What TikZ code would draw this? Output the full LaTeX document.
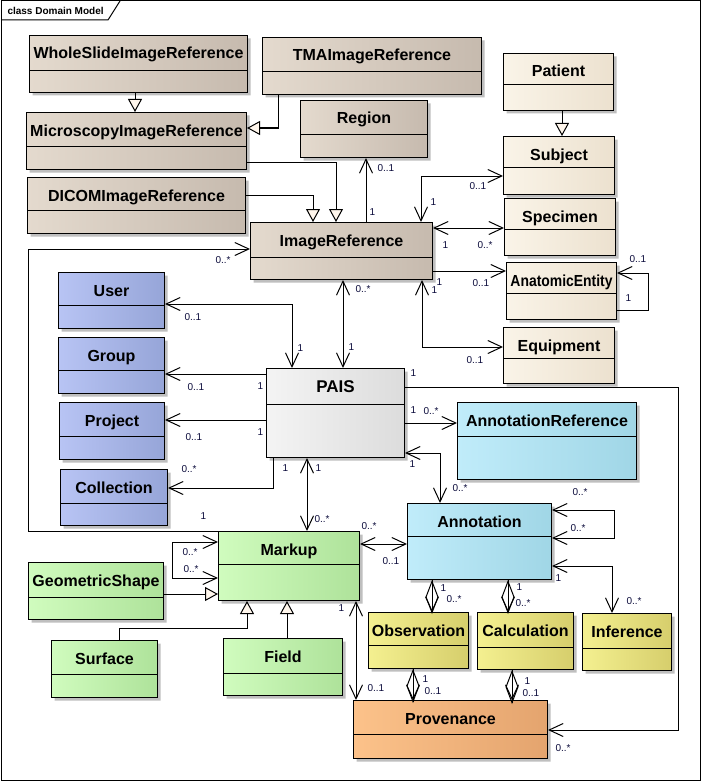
\documentclass[tikz,border=0pt]{standalone}
\usepackage{fontspec}
\setmainfont{Liberation Sans}
\usepackage{graphicx}
\usetikzlibrary{arrows.meta,shapes.multipart,shadows}

\definecolor{brownL}{RGB}{228,218,206}
\definecolor{brownR}{RGB}{198,186,174}
\definecolor{creamL}{RGB}{250,244,232}
\definecolor{creamR}{RGB}{236,225,207}
\definecolor{blueL}{RGB}{184,196,244}
\definecolor{blueR}{RGB}{150,165,216}
\definecolor{grayL}{RGB}{244,244,244}
\definecolor{grayR}{RGB}{220,220,220}
\definecolor{cyanL}{RGB}{192,236,250}
\definecolor{cyanR}{RGB}{160,214,230}
\definecolor{greenL}{RGB}{208,252,190}
\definecolor{greenR}{RGB}{174,226,154}
\definecolor{yellowL}{RGB}{244,240,144}
\definecolor{yellowR}{RGB}{214,206,108}
\definecolor{orangeL}{RGB}{252,194,138}
\definecolor{orangeR}{RGB}{228,164,110}
\definecolor{trifill}{RGB}{255,246,236}
\definecolor{multc}{RGB}{12,12,60}

\newcommand{\nm}[2]{\rule[\dimexpr23pt-#1pt\relax]{0pt}{#1pt}#2}
\newcommand{\lo}[1]{\rule{0pt}{#1pt}}

\tikzset{
  cls/.style={rectangle split, rectangle split parts=2, draw, line width=1pt,
    anchor=north west, inner xsep=2pt, inner ysep=0pt,
    font=\bfseries\fontsize{16}{19}\selectfont,
    drop shadow={shadow xshift=3pt,shadow yshift=-3pt,fill=black!25,opacity=1}},
  brownbox/.style={cls, left color=brownL, right color=brownR},
  creambox/.style={cls, left color=creamL, right color=creamR},
  bluebox/.style={cls, left color=blueL, right color=blueR},
  graybox/.style={cls, left color=grayL, right color=grayR},
  cyanbox/.style={cls, left color=cyanL, right color=cyanR},
  greenbox/.style={cls, left color=greenL, right color=greenR},
  yellowbox/.style={cls, left color=yellowL, right color=yellowR},
  orangebox/.style={cls, left color=orangeL, right color=orangeR},
  gen/.style={-{Triangle[length=13pt,width=14pt,fill=trifill]}},
  comp/.style={{Diamond[open,length=34pt,width=13pt]}->, preaction={draw,-}},
  mult/.style={anchor=west, inner sep=0pt, font=\fontsize{10}{12}\selectfont, text=multc}
}

\begin{document}
\begin{tikzpicture}[x=1pt,y=-1pt,line width=1pt,
  >={Straight Barb[length=14pt,width=13pt]}]
  \useasboundingbox[fill=white] (0,0) rectangle (702,781);

  % frame
  \draw (1,1) rectangle (700,780);
  \draw (1,20) -- (108,20) -- (120,1);
  \node[anchor=west, inner sep=0pt, font=\bfseries\fontsize{10}{12}\selectfont] (title) at (7,11) {class Domain Model};

  % image references
  \node[brownbox, minimum width=218pt] (wsir) at (29,35) {\nm{34}{WholeSlideImageReference}\nodepart{two}\lo{21}};
  \node[brownbox, minimum width=220pt] (mir) at (26,112) {\nm{33}{MicroscopyImageReference}\nodepart{two}\lo{22}};
  \node[brownbox, minimum width=218pt] (dicom) at (27,177) {\nm{32}{DICOMImageReference}\nodepart{two}\lo{22}};
  \node[brownbox, minimum width=219pt] (tma) at (262,37) {\nm{33}{TMAImageReference}\nodepart{two}\lo{22}};
  \node[brownbox, minimum width=127pt] (region) at (300,100) {\nm{33}{Region}\nodepart{two}\lo{22}};
  \node[brownbox, minimum width=182pt] (ir) at (250,222) {\nm{34}{ImageReference}\nodepart{two}\lo{21}};

  % subject side
  \node[creambox, minimum width=110pt] (patient) at (503,53) {\nm{30}{Patient}\nodepart{two}\lo{25}};
  \node[creambox, minimum width=111pt] (subject) at (503,136) {\nm{30}{Subject}\nodepart{two}\lo{26}};
  \node[creambox, minimum width=111pt] (specimen) at (504,198) {\nm{30}{Specimen}\nodepart{two}\lo{25}};
  \node[creambox, minimum width=110pt] (anatomic) at (506,262) {\nm{30}{\scalebox{0.87}[1]{AnatomicEntity}}\nodepart{two}\lo{25}};
  \node[creambox, minimum width=111pt] (equipment) at (503,327) {\nm{30}{Equipment}\nodepart{two}\lo{24}};

  % users and groups
  \node[bluebox, minimum width=106pt] (user) at (58,272) {\nm{32}{User}\nodepart{two}\lo{22}};
  \node[bluebox, minimum width=106pt] (group) at (58,337) {\nm{32}{Group}\nodepart{two}\lo{22}};
  \node[bluebox, minimum width=105pt] (project) at (59,402) {\nm{33}{Project}\nodepart{two}\lo{22}};
  \node[bluebox, minimum width=107pt] (collection) at (60,469) {\nm{33}{Collection}\nodepart{two}\lo{21}};

  \node[graybox, minimum width=138pt] (pais) at (266,368) {\nm{35}{\fontsize{17}{20}\selectfont PAIS}\nodepart{two}\lo{52}};

  \node[cyanbox, minimum width=179pt] (annref) at (457,402) {\nm{33}{AnnotationReference}\nodepart{two}\lo{42}};
  \node[cyanbox, minimum width=144pt] (annot) at (407,503) {\nm{32}{Annotation}\nodepart{two}\lo{42}};

  % markup
  \node[greenbox, minimum width=141pt] (markup) at (218,531) {\nm{32}{Markup}\nodepart{two}\lo{35}};
  \node[greenbox, minimum width=135pt] (geoshape) at (28,562) {\nm{34}{GeometricShape}\nodepart{two}\lo{21}};
  \node[greenbox, minimum width=106pt] (surface) at (51,640) {\nm{33}{Surface}\nodepart{two}\lo{22}};
  \node[greenbox, minimum width=119pt] (field) at (223,638) {\nm{34}{Field}\nodepart{two}\lo{21}};

  \node[yellowbox, minimum width=100pt] (obs) at (368,612) {\nm{32}{Observation}\nodepart{two}\lo{22}};
  \node[yellowbox, minimum width=96pt] (calc) at (477,612) {\nm{34}{Calculation}\nodepart{two}\lo{21}};
  \node[yellowbox, minimum width=89pt] (infer) at (582,613) {\nm{34}{Inference}\nodepart{two}\lo{21}};

  \node[orangebox, minimum width=194pt] (prov) at (353,700) {\nm{33}{Provenance}\nodepart{two}\lo{23}};

  % generalizations
  \draw[gen] (wsir.south -| 135,0) -- (mir.north -| 135,0);
  \draw[gen] (tma.south -| 278,0) |- (mir.east |- 0,128);
  \draw[gen] (mir.east |- 0,162) -| (ir.north -| 336,0);
  \draw[gen] (dicom.east |- 0,195) -| (ir.north -| 313,0);
  \draw[gen] (patient.south -| 562,0) -- (subject.north -| 562,0);
  \draw[gen] (geoshape.east |- 0,594) -- (markup.west |- 0,594);
  \draw[gen] (surface.north -| 119,0) -- ++(0,-12) -| (markup.south -| 247,0);
  \draw[gen] (field.north -| 287,0) -- (markup.south -| 287,0);

  % associations
  \draw[->] (ir.north -| 366,0) -- (region.south -| 366,0);
  \draw[<->] (ir.north -| 421,0) |- (subject.west |- 0,176);
  \draw[<->] (ir.east |- 0,228) -- (specimen.west |- 0,228);
  \draw[->] (ir.east |- 0,271) -- (anatomic.west |- 0,271);
  \draw[<->] (ir.south -| 422,0) |- (equipment.west |- 0,347);
  \draw[->] (anatomic.east |- 0,310) -- ++(31,0) |- (anatomic.east |- 0,273);
  \draw[<->] (ir.south -| 343,0) -- (pais.north -| 343,0);
  \draw[->] (markup.west |- 0,531) -- ++(-190,0) |- (ir.west |- 0,249);
  \draw[<->] (pais.north -| 292,0) |- (user.east |- 0,304);
  \draw[->] (pais.west |- 0,374) -- (group.east |- 0,374);
  \draw[->] (pais.west |- 0,420) -- (project.east |- 0,420);
  \draw[->] (pais.south -| 273,0) |- (collection.east |- 0,488);
  \draw[<->] (pais.south -| 307,0) -- (markup.north -| 307,0);
  \draw[->] (pais.east |- 0,423) -- (annref.west |- 0,423);
  \draw[<->] (pais.east |- 0,453) -| (annot.north -| 440,0);
  \draw[->] (pais.east |- 0,387) -- ++(273,0) |- (prov.east |- 0,730);
  \draw[<->] (annot.east |- 0,510) -- ++(62,0) |- (annot.east |- 0,538);
  \draw[<->] (annot.east |- 0,566) -| (infer.north -| 612,0);
  \draw[<->] (markup.east |- 0,544) -- (annot.west |- 0,544);
  \draw[<->] (markup.south -| 356,0) -- (prov.north -| 356,0);
  \draw[<->] (markup.west |- 0,542) -- ++(-46,0) |- (markup.west |- 0,578);

  % compositions
  \draw[comp] (annot.south -| 432,0) -- (obs.north -| 432,0);
  \draw[comp] (annot.south -| 508,0) -- (calc.north -| 508,0);
  \draw[comp] (obs.south -| 413,0) -- (prov.north -| 413,0);
  \draw[comp] (calc.south -| 512,0) -- (prov.north -| 512,0);

  % multiplicities
  \node[mult] (m1) at (377,168) {0..1};
  \node[mult] (m2) at (369,212) {1};
  \node[mult] (m3) at (430,202) {1};
  \node[mult] (m4) at (469,186) {0..1};
  \node[mult] (m5) at (442,245) {1};
  \node[mult] (m6) at (477,245) {0..*};
  \node[mult] (m7) at (472,283) {0..1};
  \node[mult] (m8) at (436,282) {1};
  \node[mult] (m9) at (431,290) {1};
  \node[mult] (m10) at (466,360) {0..1};
  \node[mult] (m11) at (629,259) {0..1};
  \node[mult] (m12) at (625,298) {1};
  \node[mult] (m13) at (355,289) {0..*};
  \node[mult] (m14) at (348,347) {1};
  \node[mult] (m15) at (297,348) {1};
  \node[mult] (m16) at (410,373) {1};
  \node[mult] (m17) at (257,386) {1};
  \node[mult] (m18) at (257,432) {1};
  \node[mult] (m19) at (410,410) {1};
  \node[mult] (m20) at (423,411) {0..*};
  \node[mult] (m21) at (409,464) {1};
  \node[mult] (m22) at (452,488) {0..*};
  \node[mult] (m23) at (282,468) {1};
  \node[mult] (m24) at (315,468) {1};
  \node[mult] (m25) at (314,519) {0..*};
  \node[mult] (m26) at (215,260) {0..*};
  \node[mult] (m27) at (184,317) {0..1};
  \node[mult] (m28) at (187,387) {0..1};
  \node[mult] (m29) at (185,437) {0..1};
  \node[mult] (m30) at (181,469) {0..*};
  \node[mult] (m31) at (200,516) {1};
  \node[mult] (m32) at (182,552) {0..*};
  \node[mult] (m33) at (183,569) {0..*};
  \node[mult] (m34) at (361,526) {0..*};
  \node[mult] (m35) at (382,561) {0..1};
  \node[mult] (m36) at (440,588) {1};
  \node[mult] (m37) at (446,599) {0..*};
  \node[mult] (m38) at (338,608) {1};
  \node[mult] (m39) at (367,688) {0..1};
  \node[mult] (m40) at (422,679) {1};
  \node[mult] (m41) at (424,691) {0..1};
  \node[mult] (m42) at (570,528) {0..*};
  \node[mult] (m43) at (572,492) {0..*};
  \node[mult] (m44) at (555,578) {1};
  \node[mult] (m45) at (626,601) {0..*};
  \node[mult] (m46) at (516,587) {1};
  \node[mult] (m47) at (515,603) {0..*};
  \node[mult] (m48) at (524,681) {1};
  \node[mult] (m49) at (522,693) {0..1};
  \node[mult] (m50) at (555,748) {0..*};
\end{tikzpicture}
\end{document}
